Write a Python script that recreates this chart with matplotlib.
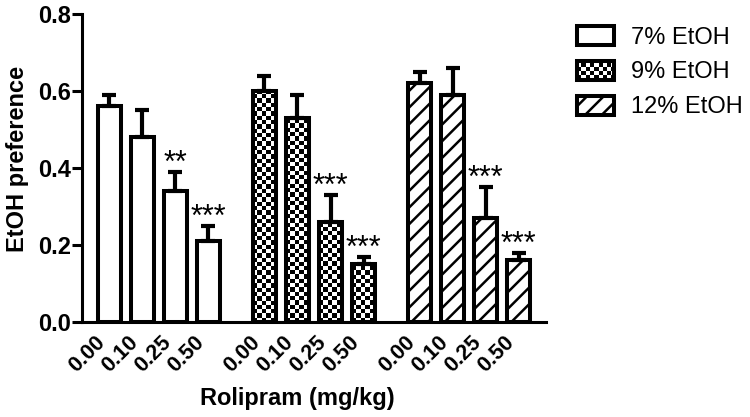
import numpy as np
import matplotlib
matplotlib.use("Agg")
import matplotlib.pyplot as plt
from matplotlib.patches import Rectangle, Patch
from matplotlib.legend_handler import HandlerBase

plt.rcParams['font.family'] = ['Liberation Sans', 'DejaVu Sans']
plt.rcParams['hatch.linewidth'] = 1.8

# ---- data ----
doses = ["0.00", "0.10", "0.25", "0.50"]
series = ["7% EtOH", "9% EtOH", "12% EtOH"]
pref_7 = [0.56, 0.48, 0.34, 0.21]
err_7 = [0.03, 0.07, 0.05, 0.04]
sig_7 = ["", "", "**", "***"]
pref_9 = [0.60, 0.53, 0.26, 0.15]
err_9 = [0.04, 0.06, 0.07, 0.02]
sig_9 = ["", "", "***", "***"]
pref_12 = [0.62, 0.59, 0.27, 0.16]
err_12 = [0.03, 0.07, 0.08, 0.02]
sig_12 = ["", "", "***", "***"]
y_ticks = [0.0, 0.2, 0.4, 0.6, 0.8]

values = [pref_7, pref_9, pref_12]
errors = [err_7, err_9, err_12]
sigs = [sig_7, sig_9, sig_12]

W, H = 750, 417
fig = plt.figure(figsize=(W / 100, H / 100), dpi=100)
ax = fig.add_axes([82 / W, 1 - 322 / H, 464 / W, 308 / H])

bar_w = 0.7
group_step = 4.7
ax.set_xlim(-0.83, 12.4 + 0.83)
ax.set_ylim(0, 0.8)

EDGE_LW = 2.9
sq_px = 4.3  # checker square size in pixels

all_x = []
all_labels = []
containers = []
for g in range(3):
    xs = np.arange(len(doses)) + g * group_step
    vals = np.array(values[g])
    errs = np.array(errors[g])
    hatch = '//' if g == 2 else None
    bc = ax.bar(xs, vals, width=bar_w, facecolor='white' if g != 1 else 'none',
                edgecolor='black', linewidth=EDGE_LW, hatch=hatch, zorder=3,
                label=series[g])
    containers.append(bc)
    ax.errorbar(xs, vals, yerr=[np.zeros_like(errs), errs], fmt='none',
                ecolor='black', elinewidth=3, capsize=5, capthick=3, zorder=4)
    for x, v, e, s in zip(xs, vals, errs, sigs[g]):
        if s:
            ax.text(x, v + e, s, ha='center', va='baseline', fontsize=22, zorder=5)
    all_x.extend(xs)
    all_labels.extend(doses)

# checkerboard texture for 9% bars, clipped to each bar
fig.canvas.draw()
p0 = ax.transData.transform((0, 0))
p1 = ax.transData.transform((1, 1))
dx = sq_px / (p1[0] - p0[0])
dy = sq_px / (p1[1] - p0[1])
for patch in containers[1].patches:
    x0 = patch.get_x()
    w = patch.get_width()
    h = patch.get_height()
    nx = int(np.ceil(w / dx)) + 1
    ny = int(np.ceil(h / dy)) + 1
    checker = (np.add.outer(np.arange(ny), np.arange(nx)) % 2).astype(float)
    im = ax.imshow(checker, cmap='gray', vmin=0, vmax=1, origin='lower',
                   extent=(x0, x0 + nx * dx, 0, ny * dy), interpolation='nearest',
                   aspect='auto', zorder=2)
    im.set_clip_path(patch)
ax.set_xlim(-0.83, 12.4 + 0.83)
ax.set_ylim(0, 0.8)

# axes styling
for sp in ['top', 'right']:
    ax.spines[sp].set_visible(False)
for sp in ['left', 'bottom']:
    ax.spines[sp].set_linewidth(2.2)
ax.set_yticks(y_ticks)
ax.set_yticklabels([f"{t:.1f}" for t in y_ticks], fontsize=17, fontweight='bold')
ax.tick_params(axis='y', length=7, width=2.2, pad=1)
ax.set_xticks(all_x)
ax.set_xticklabels(all_labels, rotation=45, ha='right', fontsize=15.5, fontweight='bold')
ax.tick_params(axis='x', length=0, pad=7)

ax.set_xlabel("Rolipram (mg/kg)", fontsize=17, fontweight='bold')
ax.xaxis.set_label_coords(0.463, -0.212)
ax.set_ylabel("EtOH preference", fontsize=17, fontweight='bold')
ax.yaxis.label.set_va('center')
ax.yaxis.set_label_coords(-0.14, 0.53)


class CheckerHandler(HandlerBase):
    def create_artists(self, legend, orig_handle, xdescent, ydescent,
                       width, height, fontsize, trans):
        arts = []
        x0, y0 = -xdescent, -ydescent
        bg = Rectangle((x0, y0), width, height, facecolor='white',
                       edgecolor='none', transform=trans)
        arts.append(bg)
        s = sq_px * 72 / 100
        nx = int(np.ceil(width / s))
        ny = int(np.ceil(height / s))
        for i in range(ny):
            for j in range(nx):
                if (i + j) % 2 == 0:
                    cw = min(s, width - j * s)
                    ch = min(s, height - i * s)
                    arts.append(Rectangle((x0 + j * s, y0 + i * s), cw, ch,
                                          facecolor='black', edgecolor='none',
                                          transform=trans))
        arts.append(Rectangle((x0, y0), width, height, facecolor='none',
                              edgecolor='black', linewidth=EDGE_LW, transform=trans))
        return arts


proxy9 = Patch(facecolor='white', edgecolor='black', label=series[1])
h7 = Patch(facecolor='white', edgecolor='black', linewidth=EDGE_LW, label=series[0])
h12 = Patch(facecolor='white', edgecolor='black', linewidth=EDGE_LW, hatch='//', label=series[2])
fig.legend(handles=[h7, proxy9, h12], labels=series,
           handler_map={proxy9: CheckerHandler()},
           loc='upper left', bbox_to_anchor=(577 / W, 1 - 26 / H),
           frameon=False, fontsize=17, handlelength=1.55, handleheight=0.85,
           handletextpad=0.75, labelspacing=0.52, borderpad=0, borderaxespad=0)

fig.savefig("out.png", dpi=100)
